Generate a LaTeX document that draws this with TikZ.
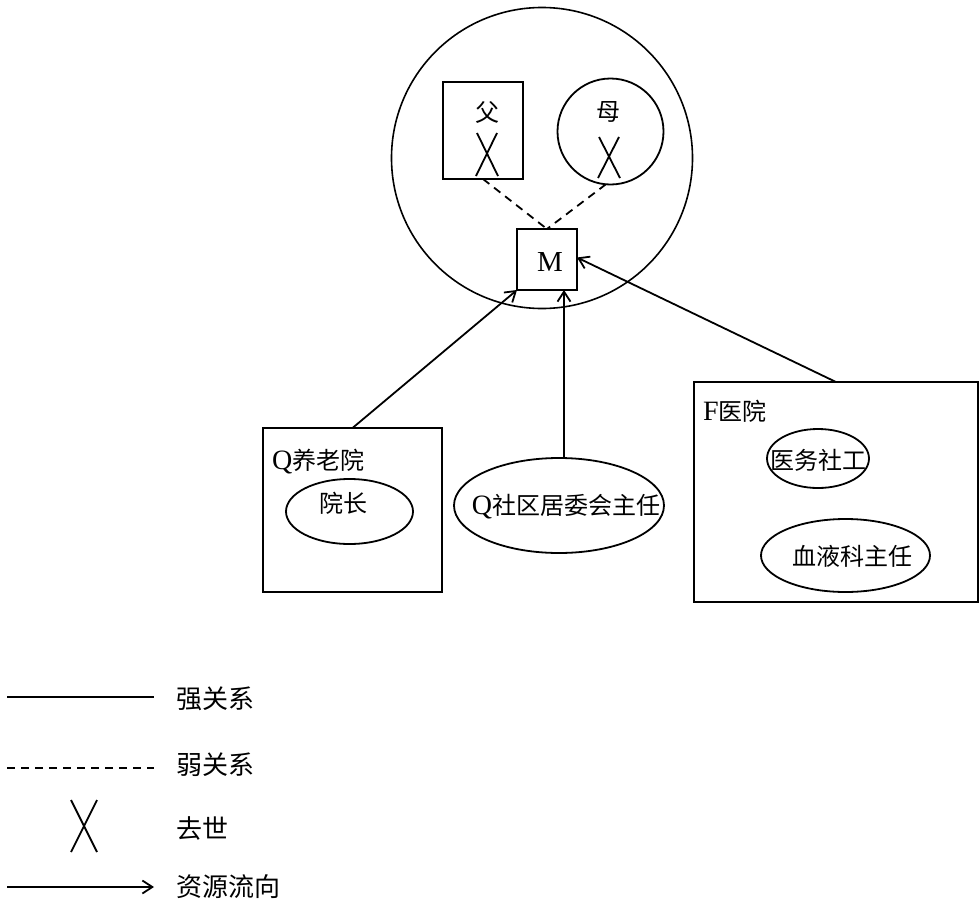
\documentclass[tikz,border=0pt]{standalone}
\usepackage{fontspec}
\setmainfont{Liberation Serif}
\newfontfamily\cjk{Noto Sans CJK SC}
\newcommand{\lat}[1]{{\rmfamily\fontsize{28}{30}\selectfont #1}}
\usetikzlibrary{arrows.meta,shapes.geometric,calc}
\begin{document}
\begin{tikzpicture}[x=1pt,y=-1pt,
  every node/.style={inner sep=0pt,outer sep=0pt},
  ln/.style={line width=1.8pt},
  box/.style={draw,line width=1.8pt,rectangle},
  ell/.style={draw,line width=1.8pt,ellipse},
  txt/.style={font=\fontsize{24}{28}\selectfont\cjk},
  lgt/.style={font=\fontsize{26}{30}\selectfont\cjk,anchor=west},
  weak/.style={line width=1.8pt,dash pattern=on 8pt off 6pt},
  flow/.style={line width=1.8pt,-{Straight Barb[length=10pt,width=13pt,line width=1.8pt]}},
  deadx/.style={line width=1.8pt}]
\useasboundingbox (0,0) rectangle (980,921);
% family circle
\node[draw,circle,line width=1.6pt,minimum size=301pt] (family) at (542,158) {};
\node[box,minimum width=80pt,minimum height=97pt] (father) at (483,130.5) {};
\node[txt] (fatherlbl) at (487,112) {父};
\draw[deadx] (477,133) -- (498,176) (497,133) -- (476,176);
\node[draw,circle,line width=1.8pt,minimum size=106pt] (mother) at (610.5,131.5) {};
\node[txt] (motherlbl) at (608,112) {母};
\draw[deadx] (599,137) -- (620,178) (619,137) -- (598,178);
\node[box,minimum width=60pt,minimum height=61pt] (M) at (547,259.5) {};
\node[font=\fontsize{29}{32}\selectfont] (Mlbl) at (550,262) {M};
\draw[weak] (father.south) -- (M.north);
\draw[weak] (mother.-95) -- (M.north);
% nursing home
\node[box,minimum width=179pt,minimum height=164pt] (nursing) at (352.5,510) {};
\node[txt,anchor=west] (nursinglbl) at (272,462) {\lat{Q}养老院};
\node[ell,minimum width=127pt,minimum height=65pt] (dean) at (349.5,511.5) {};
\node[txt] (deanlbl) at (343,503) {院长};
% committee
\node[ell,minimum width=210pt,minimum height=95pt] (committee) at (559,505.5) {};
\node[txt] (committeelbl) at (566,507) {\lat{Q}社区居委会主任};
% hospital
\node[box,minimum width=284pt,minimum height=220pt] (hospital) at (836,492) {};
\node[txt,anchor=west] (hospitallbl) at (703,411) {\lat{F}医院};
\node[ell,minimum width=102pt,minimum height=59pt] (sw) at (818,458.5) {};
\node[txt] (swlbl) at (818,460) {医务社工};
\node[ell,minimum width=169pt,minimum height=73pt] (hem) at (845.5,555.5) {};
\node[txt] (hemlbl) at (852,556) {血液科主任};
% flows
\draw[flow] (nursing.north) -- (M.south west);
\draw[flow] ([xshift=5pt]committee.north) -- ([xshift=5pt]committee.north |- M.south);
\draw[flow] (hospital.north) -- ([yshift=2pt]M.east);
% legend
\coordinate (l1a) at (7,697); \coordinate (l1b) at (154,697);
\draw[ln] (l1a) -- (l1b);
\node[lgt] (lg1) at (176,699) {强关系};
\coordinate (l2a) at (7,768); \coordinate (l2b) at (154,768);
\draw[weak] (l2a) -- (l2b);
\node[lgt] (lg2) at (176,765) {弱关系};
\draw[deadx] (71,800) -- (97,852) (97,800) -- (71,852);
\node[lgt] (lg3) at (176,828) {去世};
\coordinate (l4a) at (7,887); \coordinate (l4b) at (154,887);
\draw[flow] (l4a) -- (l4b);
\node[lgt] (lg4) at (176,887) {资源流向};
\end{tikzpicture}
\end{document}
